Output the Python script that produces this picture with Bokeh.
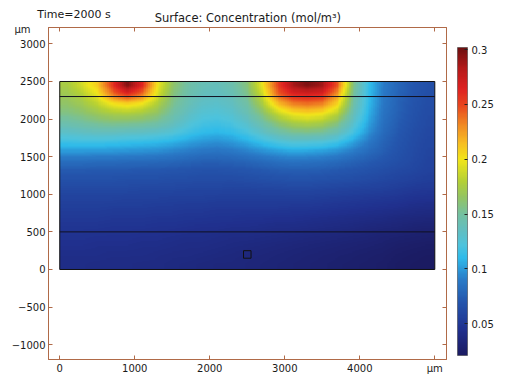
import numpy as np
from bokeh.plotting import figure
from bokeh.models import (LinearColorMapper, ColorBar, FixedTicker, NumeralTickFormatter,
                          LinearAxis, Label, Range1d)
from bokeh.embed import file_html
from bokeh.resources import INLINE

# ---------------- data ----------------
time_label = "Time=2000 s"
title_text = "Surface: Concentration (mol/m³)"
unit_label = "µm"

domain_x = [0, 5000]          # µm
domain_y = [0, 2500]          # µm
boundary_lines_y = [2300, 500]
probe_x = [2450, 2550]
probe_y = [150, 250]

x_ticks = [0, 1000, 2000, 3000, 4000, 5000]
y_ticks = [-1000, -500, 0, 500, 1000, 1500, 2000, 2500, 3000]
cbar_ticks = [0.05, 0.1, 0.15, 0.2, 0.25, 0.3]
c_min, c_max = 0.021, 0.302

# concentration (mol/m^3) read on 200 x 125 µm cells
# columns: x = 100, 300, ..., 4900 ; rows: y = 2437.5 (top) ... 62.5 (bottom)
conc_rows = [
    [.175, .190, .210, .255, .298, .262, .200, .165, .148, .140, .138, .144, .160, .198, .250, .285, .298, .288, .245, .162, .116, .091, .079, .071, .066],
    [.170, .180, .198, .236, .258, .236, .192, .160, .145, .137, .135, .140, .155, .188, .240, .262, .266, .262, .225, .155, .115, .090, .078, .070, .065],
    [.164, .171, .183, .199, .205, .197, .177, .155, .141, .132, .130, .135, .148, .175, .212, .232, .237, .232, .205, .150, .113, .089, .077, .069, .064],
    [.156, .161, .169, .175, .177, .173, .164, .148, .135, .126, .124, .129, .141, .160, .185, .200, .205, .200, .182, .142, .110, .087, .076, .068, .063],
    [.145, .149, .154, .157, .156, .154, .149, .139, .127, .119, .117, .121, .131, .146, .163, .175, .179, .175, .160, .132, .105, .085, .074, .067, .062],
    [.131, .134, .136, .136, .134, .133, .130, .125, .117, .111, .109, .112, .120, .132, .144, .152, .154, .151, .140, .120, .099, .082, .072, .065, .061],
    [.116, .117, .117, .116, .114, .113, .111, .108, .103, .099, .097, .100, .106, .114, .122, .127, .126, .124, .117, .104, .090, .078, .070, .064, .060],
    [.100, .100, .099, .099, .098, .097, .096, .093, .090, .087, .086, .088, .092, .097, .101, .104, .103, .101, .097, .090, .082, .075, .068, .063, .059],
    [.084, .084, .083, .083, .082, .082, .081, .080, .078, .076, .076, .077, .079, .082, .085, .087, .086, .085, .082, .078, .074, .070, .066, .062, .058],
    [.073, .073, .072, .072, .072, .071, .071, .070, .069, .068, .068, .069, .070, .072, .074, .075, .075, .074, .072, .070, .068, .065, .062, .060, .057],
    [.066, .066, .066, .066, .065, .065, .065, .064, .064, .063, .063, .063, .064, .065, .066, .067, .067, .066, .065, .064, .062, .060, .058, .056, .054],
    [.061, .061, .061, .061, .061, .060, .060, .060, .059, .059, .059, .058, .058, .059, .059, .060, .060, .059, .058, .057, .056, .055, .053, .051, .050],
    [.057, .057, .057, .057, .056, .056, .056, .055, .055, .055, .054, .054, .054, .054, .054, .054, .054, .053, .052, .051, .050, .049, .048, .046, .045],
    [.054, .054, .054, .053, .053, .053, .052, .052, .051, .051, .050, .050, .050, .050, .050, .049, .049, .048, .047, .046, .045, .044, .043, .041, .040],
    [.051, .051, .051, .050, .050, .050, .049, .049, .048, .048, .047, .047, .046, .046, .045, .045, .044, .043, .042, .041, .040, .039, .037, .036, .035],
    [.048, .048, .048, .047, .047, .047, .046, .046, .045, .044, .044, .043, .043, .042, .041, .041, .040, .039, .038, .037, .035, .034, .033, .031, .030],
    [.046, .046, .045, .045, .045, .044, .044, .043, .042, .042, .041, .040, .040, .039, .038, .037, .036, .035, .034, .033, .032, .030, .029, .028, .027],
    [.044, .044, .043, .043, .043, .042, .042, .041, .040, .040, .039, .038, .037, .036, .035, .034, .033, .032, .031, .030, .029, .028, .026, .025, .024],
    [.042, .042, .042, .041, .041, .041, .040, .039, .039, .038, .037, .036, .035, .034, .033, .032, .031, .030, .029, .028, .027, .026, .024, .023, .022],
    [.041, .041, .040, .040, .040, .039, .039, .038, .037, .036, .035, .035, .034, .033, .032, .031, .030, .029, .028, .027, .026, .025, .023, .022, .021],
]

# ---------------- style ----------------
FONT = "DejaVu Sans"
AXIS_COLOR = "#b06a48"
TEXT_COLOR = "#1a1a1a"

cmap_stops = [
    (0.000, "#1b1b62"), (0.085, "#20318f"), (0.174, "#2456ad"), (0.246, "#2a7cc8"),
    (0.281, "#2b9ad9"), (0.317, "#2fbbea"), (0.359, "#4ec3dc"), (0.406, "#62bec0"),
    (0.459, "#74c0a0"), (0.512, "#92c465"), (0.566, "#b4d035"), (0.637, "#f2e61a"),
    (0.690, "#f7bd22"), (0.744, "#f18e23"), (0.815, "#e8451f"), (0.868, "#de2121"),
    (0.932, "#b51a1a"), (1.000, "#6e1010"),
]


def build_palette(stops, n=256):
    pos = np.array([s[0] for s in stops])
    rgb = np.array([[int(h[i:i + 2], 16) for i in (1, 3, 5)] for _, h in stops], float)
    out = []
    for ti in np.linspace(0, 1, n):
        r, g, b = (np.interp(ti, pos, rgb[:, k]) for k in range(3))
        out.append("#%02x%02x%02x" % (int(round(r)), int(round(g)), int(round(b))))
    return out


def smooth_for_display(grid, factor=8):
    """Bilinear shading of the cell values (like a surface plot's interpolation)."""
    g = np.asarray(grid, float)
    ny, nx = g.shape
    cx = np.arange(nx) + 0.5
    cy = np.arange(ny) + 0.5
    fx = (np.arange(nx * factor) + 0.5) / factor
    fy = (np.arange(ny * factor) + 0.5) / factor
    tmp = np.array([np.interp(fx, cx, row) for row in g])
    return np.array([np.interp(fy, cy, col) for col in tmp.T]).T


mapper = LinearColorMapper(palette=build_palette(cmap_stops), low=c_min, high=c_max)

p = figure(width=512, height=376,
           x_range=Range1d(-150, 5156), y_range=Range1d(-1197, 3218),
           output_backend="svg", toolbar_location=None,
           min_border_left=48, min_border_right=65, min_border_top=25, min_border_bottom=17)
p.xgrid.visible = False
p.ygrid.visible = False
p.outline_line_color = AXIS_COLOR
p.background_fill_color = "white"
p.border_fill_color = "white"

img = smooth_for_display(np.array(conc_rows[::-1]))
p.image(image=[img], x=domain_x[0], y=domain_y[0],
        dw=domain_x[1] - domain_x[0], dh=domain_y[1] - domain_y[0], color_mapper=mapper)

p.quad(left=domain_x[0], right=domain_x[1], bottom=domain_y[0], top=domain_y[1],
       fill_color=None, line_color="#111111", line_width=1)
p.segment(x0=[domain_x[0]] * len(boundary_lines_y), x1=[domain_x[1]] * len(boundary_lines_y),
          y0=boundary_lines_y, y1=boundary_lines_y, line_color="#111122", line_width=1)
p.quad(left=probe_x[0], right=probe_x[1], bottom=probe_y[0], top=probe_y[1],
       fill_color=None, line_color="#111111", line_width=1)


def style_axis(ax, labels=True):
    ax.axis_line_color = AXIS_COLOR
    ax.major_tick_line_color = AXIS_COLOR
    ax.minor_tick_line_color = None
    ax.major_tick_in = 4
    ax.major_tick_out = 0
    ax.major_label_text_font = FONT
    ax.major_label_text_color = TEXT_COLOR
    ax.major_label_text_font_size = "10px"
    ax.major_label_standoff = 3 if labels else 0


p.xaxis.ticker = FixedTicker(ticks=x_ticks)
p.xaxis.major_label_overrides = {x_ticks[-1]: unit_label}
p.yaxis.ticker = FixedTicker(ticks=y_ticks)
style_axis(p.xaxis[0])
style_axis(p.yaxis[0])

top_axis = LinearAxis(ticker=FixedTicker(ticks=x_ticks),
                      major_label_overrides={t: "" for t in x_ticks})
style_axis(top_axis, labels=False)
p.add_layout(top_axis, "above")
right_axis = LinearAxis(ticker=FixedTicker(ticks=y_ticks),
                        major_label_overrides={t: "" for t in y_ticks})
style_axis(right_axis, labels=False)
p.add_layout(right_axis, "right")

cbar = ColorBar(color_mapper=mapper, ticker=FixedTicker(ticks=cbar_ticks),
                formatter=NumeralTickFormatter(format="0.0[0]"),
                width=10, height=308, location=(11, 4), padding=0, margin=0,
                label_standoff=4, major_label_text_font=FONT,
                major_label_text_font_size="10px", major_label_text_color=TEXT_COLOR,
                major_tick_line_color="#222222", major_tick_in=3, major_tick_out=0,
                minor_tick_line_color=None,
                bar_line_color="#333333", bar_line_width=0.5,
                background_fill_color=None, border_line_color=None)
p.add_layout(cbar, "right")

# titles and y-unit: placed in side panels (data coordinates) so they are not clipped
p.add_layout(Label(x=-300, y=3391, text=time_label, text_font=FONT, text_font_size="11px",
                   text_color=TEXT_COLOR, text_baseline="middle", text_align="left"), "above")
p.add_layout(Label(x=2508, y=3344, text=title_text, text_font=FONT, text_font_size="11.5px",
                   text_color=TEXT_COLOR, text_baseline="middle", text_align="center"), "above")
p.add_layout(Label(x=-496, y=3191, text=unit_label, text_font=FONT, text_font_size="10px",
                   text_color=TEXT_COLOR, text_baseline="middle", text_align="center"), "right")

open("out.html", "w").write(file_html(p, INLINE))
